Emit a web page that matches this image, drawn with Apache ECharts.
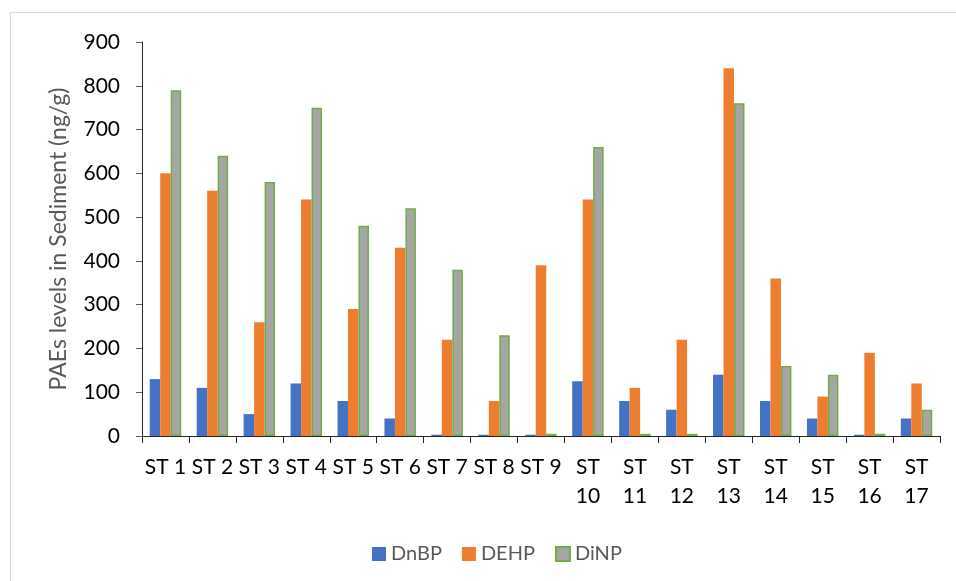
<!DOCTYPE html>
<html>
<head>
<meta charset="utf-8">
<script src="https://cdn.jsdelivr.net/npm/echarts@6/dist/echarts.min.js"></script>
<style>
  html, body { margin: 0; padding: 0; background: #fff; }
  #frame { position: absolute; left: 10px; top: 12px; width: 960px; height: 590px; border: 1px solid #d9d9d9; box-sizing: border-box; }
  #chart { position: absolute; left: 0; top: 0; width: 956px; height: 581px; }
</style>
</head>
<body>
<div id="frame"></div>
<div id="chart"></div>
<script>
// Sampling stations
const stations = ['ST 1','ST 2','ST 3','ST 4','ST 5','ST 6','ST 7','ST 8','ST 9',
  'ST 10','ST 11','ST 12','ST 13','ST 14','ST 15','ST 16','ST 17'];

// PAE concentrations in sediment (ng/g)
const dnbp = [130, 110, 50, 120, 80, 40, 3, 3, 3, 125, 80, 60, 140, 80, 40, 3, 40];
const dehp = [600, 560, 260, 540, 290, 430, 220, 80, 390, 540, 110, 220, 840, 360, 90, 190, 120];
const dinp = [790, 640, 580, 750, 480, 520, 380, 230, 5, 660, 5, 5, 760, 160, 140, 5, 60];

const yTicks = { min: 0, max: 900, interval: 100 };

const FONT = 'Lato, "Open Sans", sans-serif';

const chart = echarts.init(document.getElementById('chart'), null, { renderer: 'canvas' });

chart.setOption({
  backgroundColor: 'transparent',
  animation: false,
  textStyle: { fontFamily: FONT },
  grid: { left: 142, right: 16, top: 42, bottom: 145, containLabel: false },
  legend: {
    left: 367,
    top: 539,
    itemWidth: 14,
    itemHeight: 14,
    itemGap: 20,
    icon: 'rect',
    textStyle: { color: '#595959', fontSize: 20, fontFamily: FONT },
    data: ['DnBP', 'DEHP', 'DiNP']
  },
  xAxis: {
    type: 'category',
    data: stations,
    axisLine: { lineStyle: { color: '#262626', width: 1 } },
    axisTick: { show: true, length: 7, alignWithLabel: false, lineStyle: { color: '#262626' } },
    axisLabel: {
      color: '#000',
      fontSize: 21,
      fontFamily: FONT,
      margin: 17,
      lineHeight: 29,
      interval: 0,
      formatter: v => v.length > 4 ? v.replace(' ', '\n') : v
    }
  },
  yAxis: {
    type: 'value',
    min: yTicks.min,
    max: yTicks.max,
    interval: yTicks.interval,
    name: 'PAEs levels in Sediment (ng/g)',
    nameLocation: 'middle',
    nameGap: 72,
    nameRotate: 90,
    nameTextStyle: { color: '#595959', fontSize: 23, fontFamily: FONT },
    splitLine: { show: false },
    axisLine: { show: true, lineStyle: { color: '#262626', width: 1 } },
    axisTick: { show: true, length: 6, lineStyle: { color: '#595959' } },
    axisLabel: { color: '#000', fontSize: 21, fontFamily: FONT, margin: 22 }
  },
  series: [
    {
      name: 'DnBP', type: 'bar', data: dnbp,
      barGap: '0%', barCategoryGap: '33%',
      itemStyle: { color: '#4472C4' }
    },
    {
      name: 'DEHP', type: 'bar', data: dehp,
      barGap: '0%', barCategoryGap: '33%',
      itemStyle: { color: '#ED7D31' }
    },
    {
      name: 'DiNP', type: 'bar', data: dinp,
      barGap: '0%', barCategoryGap: '33%',
      itemStyle: { color: '#A5A5A5', borderColor: '#70AD47', borderWidth: 1.5 }
    }
  ]
});
</script>
</body>
</html>
